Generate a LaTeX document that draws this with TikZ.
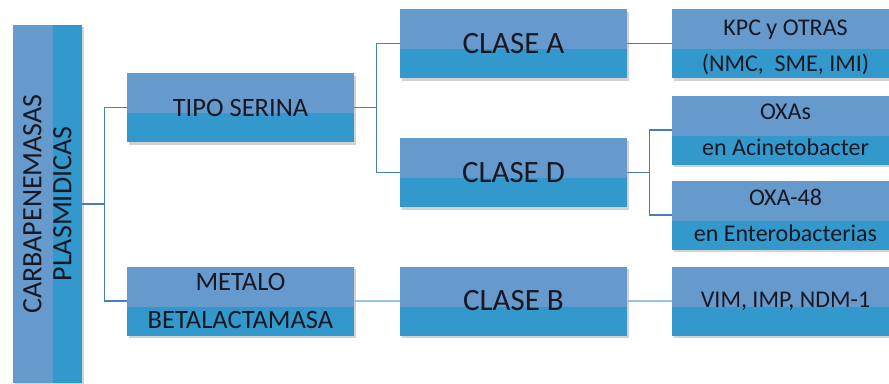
\documentclass[tikz,border=0pt]{standalone}
\usepackage{fontspec}
\setmainfont{Carlito}
\usetikzlibrary{shadows}
\definecolor{ltblue}{RGB}{102,153,204}
\definecolor{dkblue}{RGB}{51,153,204}
\definecolor{txt}{RGB}{24,24,36}
\definecolor{wire}{RGB}{74,126,187}
\definecolor{palewire}{RGB}{150,195,232}
\tikzset{
  x=1pt, y=-1pt,
  card/.style={fill=dkblue, inner sep=0pt, minimum width=227pt, minimum height=69pt,
    text=txt, align=center,
    drop shadow={shadow xshift=1.5pt, shadow yshift=-2.5pt, opacity=0.35},
    path picture={\fill[ltblue] (path picture bounding box.north west) rectangle
      ([yshift=-40pt]path picture bounding box.north east);}},
  rootbar/.style={fill=dkblue, inner sep=0pt, minimum width=69pt, minimum height=358pt,
    drop shadow={shadow xshift=2pt, shadow yshift=-2pt, opacity=0.35},
    path picture={\fill[ltblue] (path picture bounding box.north west) rectangle
      ([xshift=40pt]path picture bounding box.south west);}},
  link/.style={draw=wire, line width=1.2pt},
  palelink/.style={draw=palewire, line width=2pt},
  big/.style={font=\fontsize{31}{33}\selectfont},
  mid/.style={font=\fontsize{26.5}{38}\selectfont},
  small/.style={font=\fontsize{24}{36}\selectfont},
}
\begin{document}
\begin{tikzpicture}
\useasboundingbox (0,0) rectangle (889,383);
\clip (0,0) rectangle (889,383);
\fill[white] (0,0) rectangle (889,383);

% root bar and its rotated title
\node[rootbar] (root) at (47.5,204) {};
\node[rotate=90, align=center, text=txt, font=\fontsize{28}{30}\selectfont] (roottext) at (root.center)
  {CARBAPENEMASAS\\PLASMIDICAS};

% second level
\node[card, mid] (serina) at (240.5,107.5) {TIPO SERINA};
\node[card, mid] (metalo) at (240.5,301) {METALO\\BETALACTAMASA};

% classes
\node[card, big] (claseA) at (513.5,43.5) {CLASE A};
\node[card, big] (claseD) at (513.5,172.5) {CLASE D};
\node[card, big] (claseB) at (513.5,301) {CLASE B};

% enzymes
\node[card, small] (kpc) at (785.5,43.5) {\rule{0pt}{23.5pt}KPC y OTRAS\\(NMC,\ \ SME, IMI)};
\node[card, small] (oxas) at (785.5,130) {OXAs\\en Acinetobacter};
\node[card, small] (oxa48) at (785.5,215) {OXA-48\\en Enterobacterias};
\node[card, small] (vim) at (785.5,301) {VIM, IMP, NDM-1};

% connectors
\draw[link] (root.east) -- ++(22,0) coordinate (j1) |- (serina.west);
\draw[link] (j1) |- (metalo.west);
\draw[link] (serina.east) -- ++(22,0) coordinate (j2) |- (claseA.west);
\draw[link] (j2) |- (claseD.west);
\draw[palelink] (metalo.east) -- (claseB.west);
\draw[link] (claseA.east) -- (kpc.west);
\draw[link] (claseD.east) -- ++(22,0) coordinate (j3) |- (oxas.west);
\draw[link] (j3) |- (oxa48.west);
\draw[palelink] (claseB.east) -- (vim.west);
\end{tikzpicture}
\end{document}
